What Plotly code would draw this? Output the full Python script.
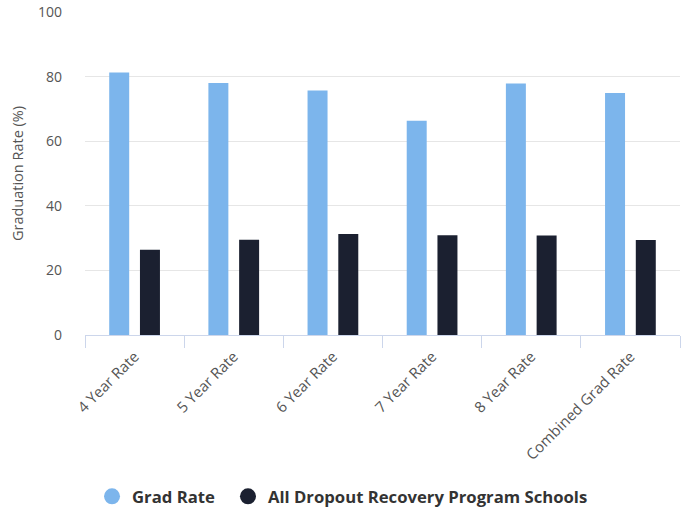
import plotly.graph_objects as go

categories = ["4 Year Rate", "5 Year Rate", "6 Year Rate", "7 Year Rate", "8 Year Rate", "Combined Grad Rate"]
grad_rate = [81.3, 78.0, 75.7, 66.3, 77.9, 74.9]
dropout_recovery = [26.4, 29.5, 31.3, 30.9, 30.8, 29.4]
series_names = ["Grad Rate", "All Dropout Recovery Program Schools"]
colors = ["#7cb5ec", "#1b2030"]

FONT = "Open Sans, DejaVu Sans, sans-serif"

fig = go.Figure()
for name, vals, c in zip(series_names, [grad_rate, dropout_recovery], colors):
    fig.add_trace(go.Bar(x=categories, y=vals, name=name, marker=dict(color=c, line=dict(width=0)),
                         showlegend=False))
for name, c, lg in zip(series_names, colors, ["legend", "legend2"]):
    fig.add_trace(go.Scatter(x=[None], y=[None], mode="markers", name=name, legend=lg,
                             marker=dict(symbol="circle", size=17, color=c)))

legend_style = dict(orientation="h", xanchor="left", y=-0.50, yanchor="middle",
                    font=dict(family=FONT, size=16.7, color="#333333", weight="bold"),
                    itemwidth=30, tracegroupgap=0, bgcolor="rgba(0,0,0,0)")

fig.update_layout(
    width=689, height=511,
    margin=dict(l=85, r=9, t=12, b=176, autoexpand=False),
    plot_bgcolor="white", paper_bgcolor="white",
    barmode="group", bargap=0.38, bargroupgap=0.35,
    font=dict(family=FONT, color="#666666", size=12),
    legend=dict(x=0.0118, **legend_style),
    legend2=dict(x=0.2403, **legend_style),
)
fig.update_yaxes(range=[0, 100], dtick=20, gridcolor="#e6e6e6", gridwidth=1, automargin=False,
                 zeroline=False, showline=False, ticks="", ticklabelstandoff=22,
                 tickfont=dict(size=14, color="#555555"),
                 title=dict(text="Graduation Rate (%)", font=dict(size=14.5, color="#555555"), standoff=10))
fig.update_xaxes(showline=True, linecolor="#ccd6eb", linewidth=1, ticks="outside", tickson="boundaries",
                 ticklen=12, tickcolor="#ccd6eb", tickangle=-45, showgrid=False, automargin=False,
                 ticklabelstandoff=6,
                 tickfont=dict(size=15, color="#555555"))

fig.write_html("out.html")
